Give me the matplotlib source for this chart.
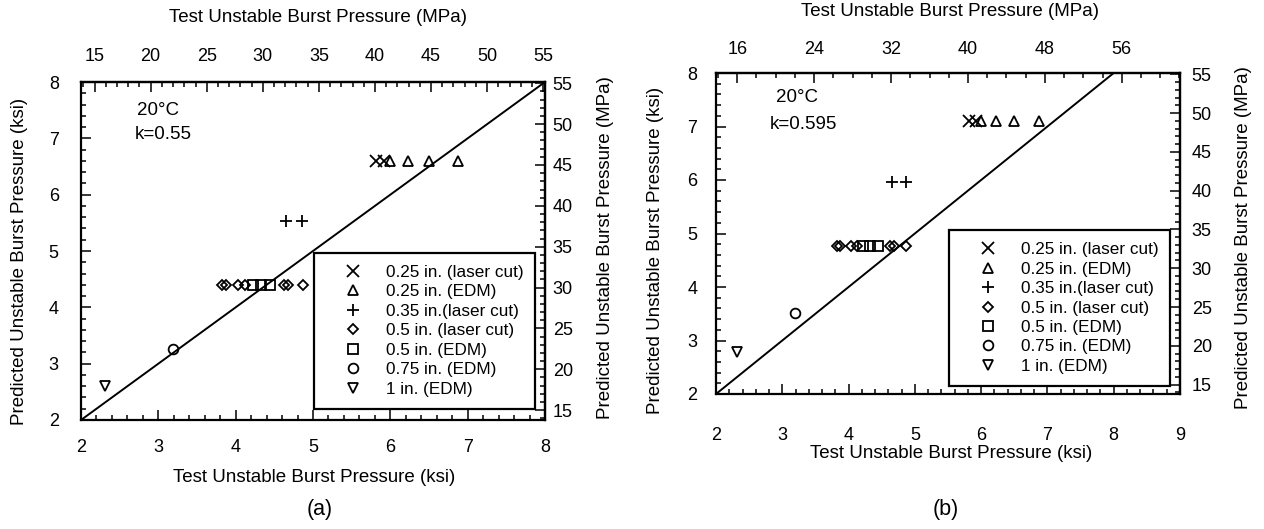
import matplotlib
matplotlib.use("Agg")
import matplotlib.pyplot as plt
from matplotlib.ticker import MultipleLocator, FixedLocator

plt.rcParams['font.family'] = ['Liberation Sans', 'DejaVu Sans']

# ---------------- data (ksi) ----------------
series_labels = ["0.25 in. (laser cut)", "0.25 in. (EDM)", "0.35 in.(laser cut)",
                 "0.5 in. (laser cut)", "0.5 in. (EDM)", "0.75 in. (EDM)", "1 in. (EDM)"]
series_markers = ['x', '^', '+', 'D', 's', 'o', 'v']

test_laser025 = [5.82, 5.92]
test_edm025 = [6.0, 6.23, 6.5, 6.88]
test_laser035 = [4.65, 4.86]
test_laser05 = [3.82, 3.87, 4.03, 4.12, 4.63, 4.68, 4.87]
test_edm05 = [4.22, 4.33, 4.45]
test_edm075 = [3.19]
test_edm1 = [2.31]

# predicted value of each series, panel (a) k=0.55 and panel (b) k=0.595
pred_a = [6.6, 6.6, 5.53, 4.40, 4.40, 3.26, 2.60]
pred_b = [7.1, 7.1, 5.96, 4.77, 4.77, 3.51, 2.79]

line_ksi = [2, 8]

top_ticks_a = [15, 20, 25, 30, 35, 40, 45, 50, 55]
top_ticks_b = [16, 24, 32, 40, 48, 56]
right_ticks = [15, 20, 25, 30, 35, 40, 45, 50, 55]

KSI2MPA = 6.894757

tests = [test_laser025, test_edm025, test_laser035, test_laser05,
         test_edm05, test_edm075, test_edm1]

W, H = 1264, 529
fig = plt.figure(figsize=(W / 100, H / 100), dpi=100)


def px_axes(l, r, t, b):
    return fig.add_axes([l / W, 1 - b / H, (r - l) / W, (b - t) / H])


def to_mpa(x):
    return x * KSI2MPA


def to_ksi(x):
    return x / KSI2MPA


TICK_FS = 13


def panel(ax, xmax, preds, top_ticks, top_minor, pads, k_text, txt_xy, leg_anchor):
    ax.set_xlim(2, xmax)
    ax.set_ylim(2, 8)
    ax.plot(line_ksi, line_ksi, color='black', lw=1.4)
    for xs, p, m, lab in zip(tests, preds, series_markers, series_labels):
        ys = [p] * len(xs)
        ms = 5.5 if m == 'D' else (8 if m in ('x', '+') else 7)
        ax.plot(xs, ys, linestyle='none', marker=m, ms=ms, mfc='none',
                mec='black', mew=1.3, label=lab)
    ax.xaxis.set_major_locator(MultipleLocator(1))
    ax.xaxis.set_minor_locator(MultipleLocator(0.2))
    ax.yaxis.set_major_locator(MultipleLocator(1))
    ax.yaxis.set_minor_locator(MultipleLocator(0.2))
    for s in ax.spines.values():
        s.set_linewidth(1.6)
    ax.tick_params(which='both', direction='in', width=1.1, labelsize=TICK_FS)
    ax.tick_params(which='major', length=7)
    ax.tick_params(which='minor', length=3.5)
    ax.tick_params(axis='x', pad=pads[0])
    ax.tick_params(axis='y', pad=pads[1])

    top = ax.secondary_xaxis('top', functions=(to_mpa, to_ksi))
    top.xaxis.set_major_locator(FixedLocator(top_ticks))
    top.xaxis.set_minor_locator(MultipleLocator(top_minor))
    top.tick_params(which='both', direction='in', width=1.1, labelsize=TICK_FS, pad=pads[2])
    top.tick_params(which='major', length=7)
    top.tick_params(which='minor', length=3.5)
    top.spines['top'].set_linewidth(1.6)

    right = ax.secondary_yaxis('right', functions=(to_mpa, to_ksi))
    right.yaxis.set_major_locator(FixedLocator(right_ticks))
    right.yaxis.set_minor_locator(MultipleLocator(1))
    right.tick_params(which='both', direction='in', width=1.1, labelsize=TICK_FS, pad=pads[3])
    right.tick_params(which='major', length=7)
    right.tick_params(which='minor', length=3.5)
    right.spines['right'].set_linewidth(1.6)

    ax.text(txt_xy[0], txt_xy[1], "20°C", fontsize=13.5, va='center', ha='left')
    ax.text(txt_xy[2], txt_xy[3], k_text, fontsize=13.5, va='center', ha='left')

    leg = ax.legend(loc='upper left', bbox_to_anchor=leg_anchor, fontsize=12.3,
                    frameon=True, fancybox=False, shadow=False, numpoints=1,
                    handlelength=3.2, handletextpad=0.3, labelspacing=0.26,
                    borderpad=0.7, borderaxespad=0.0)
    leg.get_frame().set_edgecolor('black')
    leg.get_frame().set_linewidth(1.6)
    leg.get_frame().set_alpha(1)


# panel (a)
ax_a = px_axes(81, 545, 82, 420)
panel(ax_a, 8, pred_a, top_ticks_a, 1, (14, 16, 12.5, 5.5), "k=0.55",
      (2.72, 7.5, 2.70, 7.07), (0.502, 0.494))

# panel (b)
ax_b = px_axes(716, 1180, 73, 394)
panel(ax_b, 9, pred_b, top_ticks_b, 2, (23.5, 13.5, 10.5, 8.5), "k=0.595",
      (2.9, 7.55, 2.81, 7.04), (0.502, 0.51))

lab_fs = 13.5
fig.text(318 / W, 1 - 17 / H, "Test Unstable Burst Pressure (MPa)", ha='center', va='center', fontsize=lab_fs)
fig.text(314 / W, 1 - 477 / H, "Test Unstable Burst Pressure (ksi)", ha='center', va='center', fontsize=lab_fs)
fig.text(20 / W, 1 - 261 / H, "Predicted Unstable Burst Pressure (ksi)", ha='center', va='center', rotation=90, fontsize=lab_fs)
fig.text(606 / W, 1 - 248 / H, "Predicted Unstable Burst Pressure (MPa)", ha='center', va='center', rotation=90, fontsize=lab_fs)
fig.text(320 / W, 1 - 510 / H, "(a)", ha='center', va='center', fontsize=15.5)

fig.text(950 / W, 1 - 12 / H, "Test Unstable Burst Pressure (MPa)", ha='center', va='center', fontsize=lab_fs)
fig.text(951 / W, 1 - 454 / H, "Test Unstable Burst Pressure (ksi)", ha='center', va='center', fontsize=lab_fs)
fig.text(656 / W, 1 - 250 / H, "Predicted Unstable Burst Pressure (ksi)", ha='center', va='center', rotation=90, fontsize=lab_fs)
fig.text(1244 / W, 1 - 238 / H, "Predicted Unstable Burst Pressure (MPa)", ha='center', va='center', rotation=90, fontsize=lab_fs)
fig.text(946 / W, 1 - 510 / H, "(b)", ha='center', va='center', fontsize=15.5)

fig.savefig("out.png", dpi=100)
